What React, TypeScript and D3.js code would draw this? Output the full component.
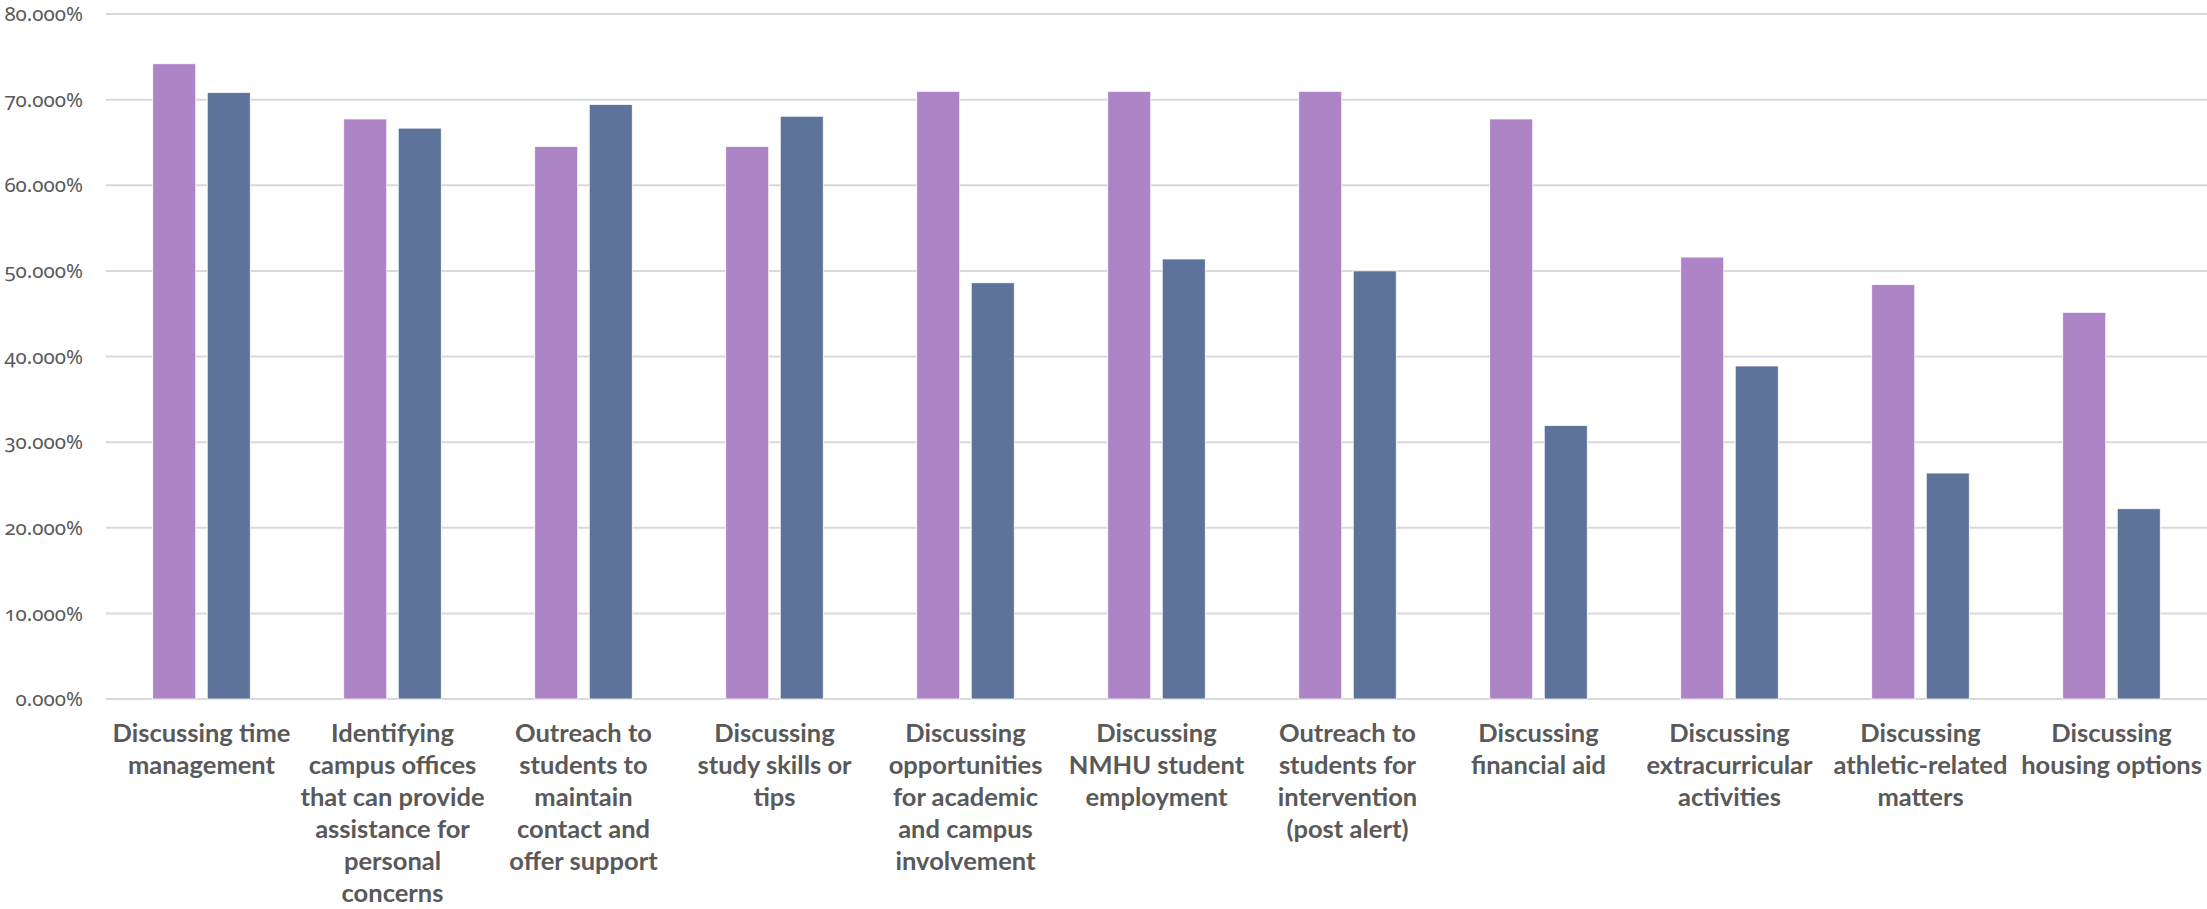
import React from "react";
import * as d3 from "d3";

const categories = [
  "Discussing time\nmanagement",
  "Identifying\ncampus offices\nthat can provide\nassistance for\npersonal\nconcerns",
  "Outreach to\nstudents to\nmaintain\ncontact and\noffer support",
  "Discussing\nstudy skills or\ntips",
  "Discussing\nopportunities\nfor academic\nand campus\ninvolvement",
  "Discussing\nNMHU student\nemployment",
  "Outreach to\nstudents for\nintervention\n(post alert)",
  "Discussing\nfinancial aid",
  "Discussing\nextracurricular\nactivities",
  "Discussing\nathletic-related\nmatters",
  "Discussing\nhousing options",
];

const seriesNames = ["Series A", "Series B"];
const seriesA = [74.19, 67.74, 64.52, 64.52, 70.97, 70.97, 70.97, 67.74, 51.61, 48.39, 45.16];
const seriesB = [70.83, 66.67, 69.44, 68.06, 48.61, 51.39, 50.0, 31.94, 38.89, 26.39, 22.22];
const yTicks = [0, 10, 20, 30, 40, 50, 60, 70, 80];
const colors = ["#AD84C6", "#5E7399"];

const W = 2207;
const H = 909;
const M = { left: 106, right: 0, top: 14, bottom: 210 };

export default function App() {
  const x = d3.scaleBand<number>()
    .domain(categories.map((_, i) => i))
    .range([M.left, W - M.right])
    .paddingInner(0)
    .paddingOuter(0);
  const x1 = d3.scaleBand<number>()
    .domain([0, 1])
    .range([0, x.bandwidth()])
    .paddingInner(0.211)
    .paddingOuter(0.858);
  const y = d3.scaleLinear().domain([0, 80]).range([H - M.bottom, M.top]);
  const y0 = y(0);
  const series = [seriesA, seriesB];
  const fmt = (v: number) => v.toFixed(3) + "%";

  return (
    <svg width={W} height={H} style={{ position: "absolute", left: 0, top: 0, background: "#fff" }}>
      <g>
        {yTicks.map((t) => (
          <line key={t} x1={M.left} x2={W - M.right} y1={y(t)} y2={y(t)} stroke="#d9d9d9" strokeWidth={2} />
        ))}
        {yTicks.map((t) => (
          <text key={"l" + t} x={83} y={y(t)} dy="0.35em" textAnchor="end" fill="#595959"
            style={{ fontFamily: "'Noto Sans', sans-serif", fontSize: 20.5, fontVariantNumeric: "oldstyle-nums" }}>
            {fmt(t)}
          </text>
        ))}
      </g>
      <g>
        {categories.map((_, i) =>
          series.map((s, k) => (
            <rect key={i + "-" + k}
              x={(x(i) as number) + (x1(k) as number)}
              y={y(s[i])}
              width={x1.bandwidth()}
              height={y0 - y(s[i])}
              fill={colors[k]}
              stroke="#ffffff" strokeWidth={0.75} />
          ))
        )}
      </g>
      <g>
        {categories.map((c, i) => (
          <text key={"c" + i} x={(x(i) as number) + x.bandwidth() / 2} y={y0 + 34}
            textAnchor="middle" fill="#595959"
            style={{ fontFamily: "Lato, sans-serif", fontWeight: 700, fontSize: 25.5 }}>
            {c.split("\n").map((line, j) => (
              <tspan key={j} x={(x(i) as number) + x.bandwidth() / 2} dy={j === 0 ? "0.35em" : 32}>{line}</tspan>
            ))}
          </text>
        ))}
      </g>
    </svg>
  );
}
